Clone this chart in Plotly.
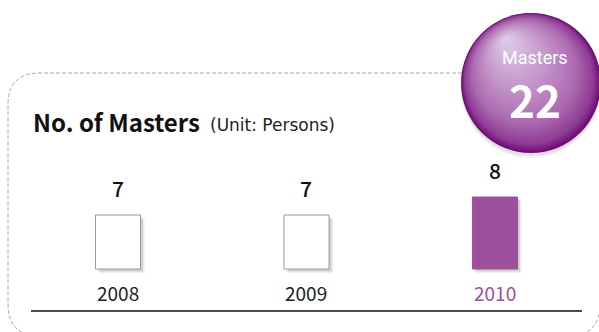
import plotly.graph_objects as go

# ---- data -------------------------------------------------------------
years = ["2008", "2009", "2010"]
masters = [7, 7, 8]
total_masters = 22
bar_fill = ["#ffffff", "#ffffff", "#9d509c"]
bar_line = ["#9a9a9a", "#9a9a9a", "#9d509c"]
year_colors = ["#222222", "#222222", "#9d509c"]

W, H = 599, 332
BASE = 4.0          # floor of the value axis
FONT = "Noto Sans CJK KR"
NARROW = "Liberation Sans Narrow, Roboto, sans-serif"


def px(x):
    return x / W


def py(y):
    return 1 - y / H


fig = go.Figure()

# soft drop shadows behind the bars
for shift, alpha in [(4, 0.07), (2.5, 0.12)]:
    fig.add_trace(go.Bar(
        x=years, y=[v - BASE for v in masters], base=[BASE - shift / 18] * 3,
        width=0.239, offset=-0.1195 + shift / 188.5,
        marker=dict(color=f"rgba(0,0,0,{alpha})", line=dict(width=0)),
        hoverinfo="skip", showlegend=False,
    ))

fig.add_trace(go.Bar(
    x=years, y=[v - BASE for v in masters], base=[BASE] * 3,
    width=0.239,
    marker=dict(color=bar_fill, line=dict(color=bar_line, width=1)),
    customdata=masters, hovertemplate="%{x}: %{customdata}<extra></extra>",
    showlegend=False,
))

annotations = []
# value labels above bars (category index positions)
for i, v in enumerate(masters):
    annotations.append(dict(
        x=i, y=v, xref="x", yref="y", text=str(v), showarrow=False,
        xanchor="center", yanchor="middle", yshift=27,
        font=dict(family=FONT, size=21, color="#111111", weight=500),
    ))
# year labels under bars
for i, (yr, c) in enumerate(zip(years, year_colors)):
    annotations.append(dict(
        x=i, y=py(292), xref="x", yref="paper", text=yr, showarrow=False,
        xanchor="center", yanchor="middle",
        font=dict(family=FONT, size=19, color=c),
    ))

# title and unit note
annotations.append(dict(
    x=px(31), y=py(121), xref="paper", yref="paper", xanchor="left",
    yanchor="middle", showarrow=False, text="<b>No. of Masters</b>",
    font=dict(family=FONT, size=24, color="#111111"),
))
annotations.append(dict(
    x=px(208), y=py(125), xref="paper", yref="paper", xanchor="left",
    yanchor="middle", showarrow=False, text="(Unit: Persons)",
    font=dict(family="DejaVu Sans", size=17, color="#222222"),
))

shapes = []

# dashed rounded frame
x0, x1, y0, y1, r = 8, 600, 73, 336, 32
frame = (f"M {px(x1)},{py(y0)} L {px(x0 + r)},{py(y0)} "
         f"Q {px(x0)},{py(y0)} {px(x0)},{py(y0 + r)} "
         f"L {px(x0)},{py(y1 - r)} Q {px(x0)},{py(y1)} {px(x0 + r)},{py(y1)} "
         f"L {px(x1 - r)},{py(y1)} Q {px(x1)},{py(y1)} {px(x1)},{py(y1 - r)}")
shapes.append(dict(type="path", path=frame, xref="paper", yref="paper",
                   line=dict(color="#a8a8a8", width=1, dash="4px,2px"), layer="below"))

# baseline
shapes.append(dict(type="line", xref="paper", yref="paper",
                   x0=px(31), x1=px(582), y0=py(311), y1=py(311),
                   line=dict(color="#111111", width=1.5)))

# badge circle with an off-centre radial highlight
cx, cy, R = 531, 83, 70
hx, hy = 505, 38


def lerp(a, b, t):
    return a + (b - a) * t


stops = [(0.0, (112, 14, 120)), (0.07, (142, 60, 148)), (0.25, (172, 106, 176)),
         (0.55, (195, 148, 201)), (0.85, (214, 188, 222)), (1.0, (224, 206, 232))]


def color_at(t):
    for (t0, c0), (t1, c1) in zip(stops, stops[1:]):
        if t <= t1:
            k = (t - t0) / (t1 - t0)
            return "rgb(%d,%d,%d)" % tuple(round(lerp(a, b, k)) for a, b in zip(c0, c1))
    return "rgb(%d,%d,%d)" % stops[-1][1]


# faint shadow under the badge
for d, a in [(5, 0.05), (3, 0.07)]:
    shapes.append(dict(type="circle", xref="paper", yref="paper",
                       x0=px(cx - R), x1=px(cx + R),
                       y0=py(cy + R + d), y1=py(cy - R + d),
                       fillcolor=f"rgba(0,0,0,{a})", line=dict(width=0)))

N = 50
for i in range(N):
    t = i / N
    ccx, ccy, rr = lerp(cx, hx, t), lerp(cy, hy, t), R * (1 - t)
    shapes.append(dict(type="circle", xref="paper", yref="paper",
                       x0=px(ccx - rr), x1=px(ccx + rr),
                       y0=py(ccy + rr), y1=py(ccy - rr),
                       fillcolor=color_at(t), line=dict(width=0)))

annotations.append(dict(
    x=px(535), y=py(58), xref="paper", yref="paper", text="Masters",
    showarrow=False, xanchor="center", yanchor="middle",
    font=dict(family=NARROW, size=18, color="#ffffff"),
))
annotations.append(dict(
    x=px(535), y=py(99), xref="paper", yref="paper", text=f"<b>{total_masters}</b>",
    showarrow=False, xanchor="center", yanchor="middle",
    font=dict(family=FONT, size=44, color="#ffffff"),
))

fig.update_layout(
    width=W, height=H, margin=dict(l=0, r=0, t=0, b=0),
    paper_bgcolor="#ffffff", plot_bgcolor="rgba(0,0,0,0)",
    barmode="overlay", showlegend=False,
    xaxis=dict(type="category", range=[-0.626, 2.552], visible=False, fixedrange=True),
    yaxis=dict(range=[0.5, 18.944], visible=False, fixedrange=True),
    shapes=shapes, annotations=annotations,
)

fig.write_html("out.html")
